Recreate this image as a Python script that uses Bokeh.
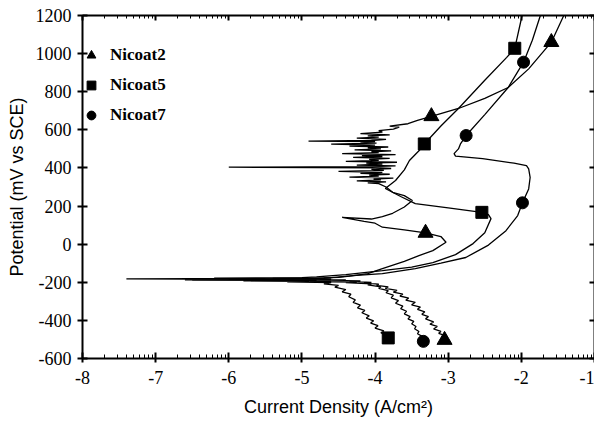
import math
from bokeh.plotting import figure
from bokeh.models import Range1d, LinearAxis, FixedTicker, Legend, LegendItem
from bokeh.embed import file_html
from bokeh.resources import INLINE

# ---------------- data: (log10 current density [A/cm2], potential [mV vs SCE]) ----------------
nicoat2 = [(-3.05, -503), (-3.08, -490), (-3.02, -482), (-3.13, -468), (-3.1, -458), (-3.2, -445), (-3.15, -432),
           (-3.25, -420), (-3.2, -408), (-3.31, -392), (-3.27, -380), (-3.36, -368), (-3.32, -355), (-3.42, -342),
           (-3.38, -330), (-3.5, -318), (-3.45, -305), (-3.58, -294), (-3.54, -283), (-3.66, -272), (-3.62, -262),
           (-3.75, -252), (-3.7, -243), (-3.86, -232), (-3.82, -224), (-3.98, -216), (-3.95, -210), (-4.15, -204),
           (-4.05, -200), (-4.35, -196), (-4.2, -193), (-4.6, -190), (-4.4, -188), (-5.0, -186), (-4.6, -184),
           (-6.0, -183), (-4.9, -181), (-5.4, -179), (-4.7, -177), (-4.5, -174), (-4.35, -168),
           (-4.1, -155), (-3.9, -128), (-3.6, -90), (-3.4, -60), (-3.21, -34), (-3.03, 10), (-3.1, 40), (-3.31, 59),
           (-3.6, 75), (-3.9, 89), (-4.0, 110), (-4.15, 120), (-4.45, 141), (-4.05, 132), (-3.9, 145), (-3.76, 162),
           (-3.6, 195), (-3.49, 229), (-3.6, 255), (-3.76, 272), (-3.85, 300),
           (-3.95, 318), (-4.1, 322), (-3.85, 327), (-4.25, 332), (-3.92, 337), (-4.02, 342), (-3.75, 347), (-4.35, 352),
           (-3.95, 357), (-4.08, 362), (-3.8, 367), (-4.2, 372), (-3.9, 377), (-4.5, 382), (-3.88, 387), (-4.05, 392),
           (-3.78, 397), (-4.0, 401), (-6.0, 404), (-4.05, 407), (-3.72, 411), (-4.25, 415), (-3.9, 420), (-4.12, 425),
           (-3.7, 430), (-4.4, 435), (-3.95, 440), (-4.08, 445), (-3.8, 450), (-4.3, 455), (-3.9, 460), (-4.18, 465),
           (-3.72, 470), (-4.45, 475), (-3.95, 480), (-4.05, 485), (-3.78, 490), (-4.28, 495), (-3.92, 500),
           (-4.1, 505), (-3.82, 510), (-4.35, 515), (-4.0, 520), (-4.6, 525), (-3.98, 530), (-4.2, 535),
           (-4.0, 538), (-4.91, 541), (-4.05, 544), (-3.85, 550), (-4.25, 556), (-3.95, 562), (-4.1, 568), (-3.8, 574),
           (-4.2, 580), (-3.9, 588), (-3.95, 596), (-3.75, 604), (-3.67, 614), (-3.8, 620), (-3.55, 632), (-3.42, 650),
           (-3.23, 671), (-2.86, 712), (-2.5, 765), (-2.18, 822), (-1.9, 920), (-1.59, 1060), (-1.42, 1200)]

nicoat5 = [(-3.82, -492), (-3.86, -478), (-3.92, -465), (-3.88, -455), (-4.0, -440), (-3.96, -428), (-4.06, -414),
           (-4.02, -402), (-4.12, -388), (-4.08, -376), (-4.18, -360), (-4.14, -348), (-4.24, -334), (-4.2, -320),
           (-4.3, -306), (-4.27, -292), (-4.36, -276), (-4.33, -262), (-4.45, -250), (-4.4, -238), (-4.55, -226),
           (-4.5, -216), (-4.7, -208), (-4.6, -202), (-5.2, -198), (-4.9, -195), (-5.8, -192), (-5.1, -190),
           (-6.5, -187), (-5.3, -185), (-7.4, -182), (-5.5, -180), (-6.2, -178), (-5.0, -176), (-4.8, -172),
           (-4.4, -160), (-3.9, -139), (-3.5, -120), (-3.21, -97), (-2.9, -55), (-2.66, 3), (-2.5, 60),
           (-2.415, 134), (-2.45, 155), (-2.54, 167), (-3.0, 190), (-3.45, 213), (-3.65, 250), (-3.86, 292),
           (-3.72, 334), (-3.6, 390), (-3.53, 439), (-3.4, 490), (-3.327, 526), (-3.1, 620), (-2.86, 712),
           (-2.5, 860), (-2.2, 980), (-2.09, 1028), (-1.99, 1200)]

nicoat7 = [(-3.34, -510), (-3.38, -495), (-3.35, -485), (-3.42, -470), (-3.4, -458), (-3.46, -444), (-3.44, -432),
           (-3.5, -418), (-3.47, -405), (-3.55, -392), (-3.52, -380), (-3.6, -366), (-3.57, -352), (-3.65, -338),
           (-3.62, -325), (-3.72, -310), (-3.68, -296), (-3.78, -282), (-3.75, -268), (-3.85, -255), (-3.82, -244),
           (-3.95, -232), (-3.92, -224), (-4.1, -214), (-4.05, -208), (-4.4, -202), (-4.25, -199), (-4.9, -196),
           (-4.6, -193), (-5.7, -191), (-4.8, -189), (-6.6, -187), (-5.0, -185), (-5.9, -183), (-4.9, -181),
           (-4.6, -176), (-4.3, -165), (-3.9, -155), (-3.45, -128), (-3.1, -100), (-2.76, -70), (-2.45, -5),
           (-2.21, 71), (-2.05, 150), (-1.985, 217), (-1.9, 290), (-1.88, 350), (-1.9, 395), (-1.93, 412),
           (-2.1, 425), (-2.53, 449), (-2.9, 462), (-2.92, 475), (-2.86, 500), (-2.83, 528), (-2.755, 570),
           (-2.5, 680), (-2.18, 822), (-1.97, 955), (-1.85, 1070), (-1.74, 1200)]

tri_x = [-1.59, -3.23, -3.31, -3.05]
tri_y = [1060, 671, 59, -503]
sq_x = [-2.09, -3.327, -2.54, -3.82]
sq_y = [1028, 526, 167, -492]
circ_x = [-1.97, -2.755, -1.985, -3.34]
circ_y = [955, 570, 217, -510]

series_names = ["Nicoat2", "Nicoat5", "Nicoat7"]
x_ticks = [-8, -7, -6, -5, -4, -3, -2, -1]
y_ticks = [-600, -400, -200, 0, 200, 400, 600, 800, 1000, 1200]

# ---------------- figure ----------------
p = figure(width=594, height=421, output_backend="svg", toolbar_location=None,
           x_range=Range1d(-8, -1), y_range=Range1d(-600, 1200),
           min_border_left=82, min_border_top=15, min_border_right=0, min_border_bottom=63)
p.grid.visible = False
p.outline_line_color = None
p.background_fill_color = "white"

minor = [d + math.log10(k) for d in range(-8, -1) for k in range(2, 10)]
xt = FixedTicker(ticks=x_ticks, minor_ticks=minor)
yt = FixedTicker(ticks=y_ticks)

serif = "Liberation Serif"
sans = "Liberation Sans"

def style(ax):
    ax.axis_line_width = 2
    ax.axis_line_color = "black"
    ax.major_tick_line_width = 2
    ax.major_tick_line_color = "black"
    ax.minor_tick_line_color = "black"
    ax.minor_tick_line_width = 1
    ax.major_label_text_font = serif
    ax.major_label_text_font_size = "18px"
    ax.major_label_text_color = "black"
    ax.axis_label_text_font = sans
    ax.axis_label_text_font_size = "18px"
    ax.axis_label_text_font_style = "normal"
    ax.axis_label_text_color = "black"

xa = p.xaxis[0]
xa.ticker = xt
style(xa)
xa.major_tick_in = 6
xa.major_tick_out = 4
xa.minor_tick_in = 4
xa.minor_tick_out = 0
xa.major_label_standoff = 8
xa.major_label_overrides = {t: str(t) for t in x_ticks}
xa.axis_label = "Current Density (A/cm\u00b2)"
xa.axis_label_standoff = 10

ya = p.yaxis[0]
ya.ticker = yt
style(ya)
ya.major_tick_in = 5
ya.major_tick_out = 5
ya.minor_tick_in = 0
ya.minor_tick_out = 0
ya.major_label_standoff = 6
ya.major_label_overrides = {t: str(t) for t in y_ticks}
ya.axis_label = "Potential (mV vs SCE)"
ya.axis_label_standoff = 6

top = LinearAxis(ticker=xt)
style(top)
top.major_tick_in = 5
top.major_tick_out = 0
top.minor_tick_in = 3
top.minor_tick_out = 0
top.major_label_text_font_size = "0px"
top.major_label_standoff = 0
p.add_layout(top, "above")

right = LinearAxis(ticker=yt)
style(right)
right.major_tick_in = 5
right.major_tick_out = 0
right.minor_tick_in = 0
right.minor_tick_out = 0
right.major_label_text_font_size = "0px"
right.major_label_standoff = 0
p.add_layout(right, "right")

# curves
for data in (nicoat2, nicoat5, nicoat7):
    xs = [d[0] for d in data]
    ys = [d[1] for d in data]
    p.line(xs, ys, line_color="black", line_width=1.3)

r_tri = p.scatter(tri_x, tri_y, marker="triangle", size=15, color="black")
r_sq = p.scatter(sq_x, sq_y, marker="square", size=12, color="black")
r_circ = p.scatter(circ_x, circ_y, marker="circle", size=12, color="black")

legend = Legend(items=[LegendItem(label=series_names[0], renderers=[r_tri]),
                       LegendItem(label=series_names[1], renderers=[r_sq]),
                       LegendItem(label=series_names[2], renderers=[r_circ])],
                location=(-2, 228))
legend.margin = 0
legend.padding = 0
legend.spacing = 0
legend.glyph_width = 22
legend.glyph_height = 30
legend.label_standoff = 8
legend.label_text_font = serif
legend.label_text_font_size = "17px"
legend.label_text_font_style = "bold"
legend.label_text_color = "black"
legend.border_line_color = None
legend.background_fill_alpha = 0
p.add_layout(legend)

open("out.html", "w").write(file_html(p, INLINE))
